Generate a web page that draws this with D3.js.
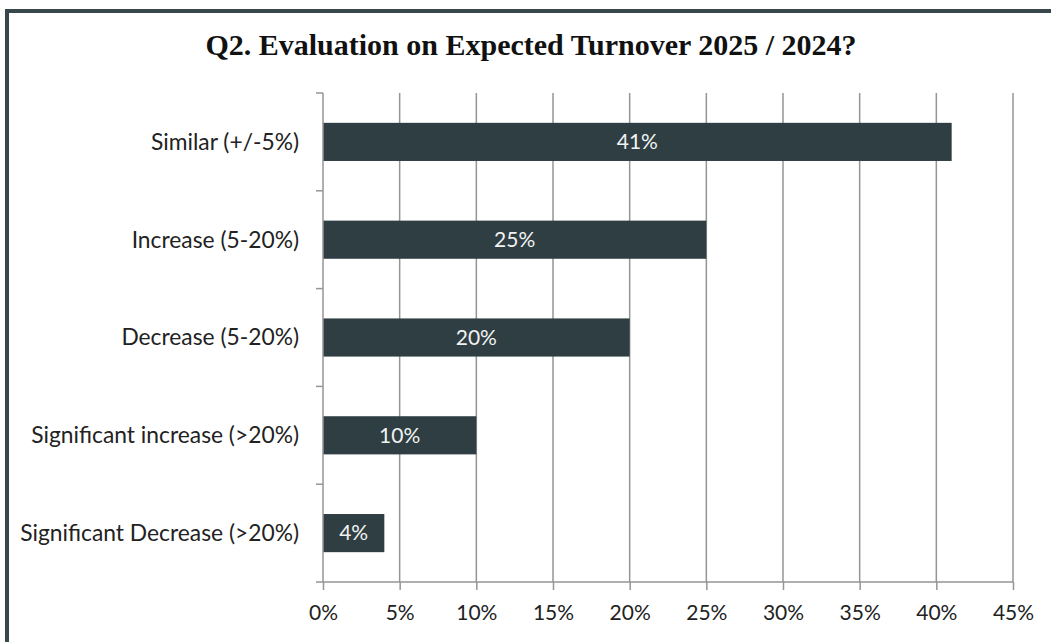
<!DOCTYPE html>
<html>
<head>
<meta charset="utf-8">
<script src="https://cdn.jsdelivr.net/npm/d3@7"></script>
<style>
  html, body { margin: 0; padding: 0; background: #fff; }
  svg { display: block; }
</style>
</head>
<body>
<svg id="chart" width="1051" height="642"></svg>
<script>
// Survey answers, top to bottom
const categories = [
  "Similar (+/-5%)",
  "Increase (5-20%)",
  "Decrease (5-20%)",
  "Significant increase (>20%)",
  "Significant Decrease (>20%)"
];
const shares = [41, 25, 20, 10, 4];
const tickValues = [0, 5, 10, 15, 20, 25, 30, 35, 40, 45];
const title = "Q2. Evaluation on Expected Turnover 2025 / 2024?";

const W = 1051, H = 642;
const margin = { left: 323, right: 38, top: 93, bottom: 60 };
const barColor = "#2e3e43";
const gridColor = "#959595";
const frameColor = "#37474c";
const sans = "Lato, 'Open Sans', sans-serif";

const svg = d3.select("#chart");

// outer frame (top and left edges visible)
svg.append("rect").attr("x", 0).attr("y", 0).attr("width", W).attr("height", H).attr("fill", "#fff");
svg.append("rect").attr("x", 5).attr("y", 9).attr("width", W - 5).attr("height", 4).attr("fill", frameColor);
svg.append("rect").attr("x", 5).attr("y", 9).attr("width", 4).attr("height", H - 9).attr("fill", frameColor);

// title
svg.append("text")
  .attr("x", 531).attr("y", 55)
  .attr("text-anchor", "middle")
  .attr("font-family", "'Liberation Serif', 'Times New Roman', serif")
  .attr("font-weight", "bold")
  .attr("font-size", 30)
  .attr("fill", "#111")
  .text(title);

const x = d3.scaleLinear().domain([0, 45]).range([margin.left, W - margin.right]);
const y = d3.scaleBand().domain(categories).range([margin.top, H - margin.bottom]).padding(0);
const barH = y.bandwidth() * 0.39;

// vertical gridlines
svg.append("g")
  .selectAll("line")
  .data(tickValues.slice(1))
  .join("line")
  .attr("x1", d => x(d)).attr("x2", d => x(d))
  .attr("y1", margin.top).attr("y2", H - margin.bottom)
  .attr("stroke", gridColor).attr("stroke-width", 1.5);

// bars
svg.append("g")
  .selectAll("rect")
  .data(shares)
  .join("rect")
  .attr("x", x(0))
  .attr("y", (d, i) => y(categories[i]) + (y.bandwidth() - barH) / 2)
  .attr("width", d => x(d) - x(0))
  .attr("height", barH)
  .attr("fill", barColor);

// value labels inside bars
svg.append("g")
  .selectAll("text")
  .data(shares)
  .join("text")
  .attr("x", d => (x(0) + x(d)) / 2)
  .attr("y", (d, i) => y(categories[i]) + y.bandwidth() / 2)
  .attr("dy", "0.35em")
  .attr("text-anchor", "middle")
  .attr("font-family", sans)
  .attr("font-size", 21)
  .attr("fill", "#f2f2f2")
  .text(d => d + "%");

// x axis
const xAxis = d3.axisBottom(x)
  .tickValues(tickValues)
  .tickFormat(d => d + "%")
  .tickSize(8)
  .tickSizeOuter(0)
  .tickPadding(15);
const gx = svg.append("g")
  .attr("transform", `translate(0,${H - margin.bottom})`)
  .call(xAxis);
gx.select(".domain").attr("stroke", gridColor).attr("stroke-width", 1.5)
  .attr("d", `M${x(0) - 7},0H${x(45)}`);
gx.selectAll(".tick line").attr("stroke", gridColor).attr("stroke-width", 1.5);
gx.selectAll(".tick text")
  .attr("font-family", sans)
  .attr("font-size", 21)
  .attr("fill", "#222");

// y axis: ticks at band boundaries
const gy = svg.append("g");
gy.append("line")
  .attr("x1", x(0)).attr("x2", x(0))
  .attr("y1", margin.top).attr("y2", H - margin.bottom)
  .attr("stroke", gridColor).attr("stroke-width", 1.5);
const boundaries = categories.map(c => y(c));
gy.selectAll("line.b")
  .data(boundaries)
  .join("line")
  .attr("class", "b")
  .attr("x1", x(0) - 7).attr("x2", x(0))
  .attr("y1", d => d).attr("y2", d => d)
  .attr("stroke", gridColor).attr("stroke-width", 1.5);

// category labels
gy.selectAll("text")
  .data(categories)
  .join("text")
  .attr("x", x(0) - 24)
  .attr("y", d => y(d) + y.bandwidth() / 2)
  .attr("dy", "0.35em")
  .attr("text-anchor", "end")
  .attr("font-family", sans)
  .attr("font-size", 22.8)
  .attr("fill", "#222")
  .text(d => d);
</script>
</body>
</html>
